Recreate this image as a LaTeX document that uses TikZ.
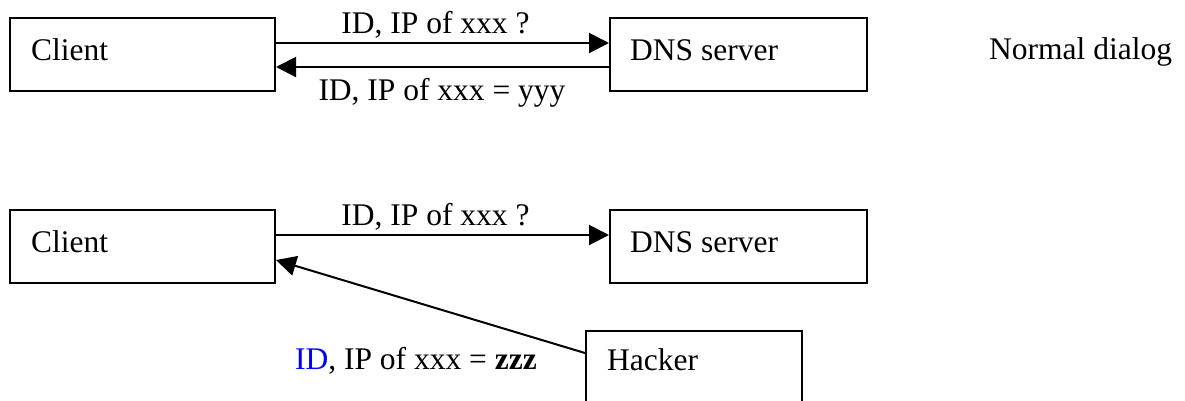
\documentclass[tikz,border=0pt]{standalone}
\usepackage{fontspec}
\setmainfont{Liberation Serif}
\usetikzlibrary{arrows.meta}
\definecolor{idblue}{RGB}{0,0,255}
\begin{document}
\begin{tikzpicture}[x=1pt,y=-1pt,
  box/.style={draw, line width=2pt, inner sep=0pt, minimum height=73pt},
  lbl/.style={inner sep=0pt, anchor=base west, font=\fontsize{31.5}{38}\selectfont},
  msg/.style={inner sep=0pt, anchor=base, font=\fontsize{31.5}{38}\selectfont},
  arr/.style={line width=2pt, -{Triangle[length=20pt,width=20pt]}}]
\useasboundingbox (0,0) rectangle (1185,400);
\clip (0,0) rectangle (1185,400);
% top row: normal dialog
\node[box, minimum width=265pt] (c1) at (142.5,54.5) {};
\node[box, minimum width=257pt] (d1) at (738.5,54.5) {};
\node[lbl] (c1t) at (31,60) {Client};
\node[lbl] (d1t) at (630,60) {DNS server};
\node[lbl] (nd) at (989,59) {Normal dialog};
\draw[arr] ([yshift=11.5pt]c1.east) -- ([yshift=11.5pt]d1.west);
\draw[arr] ([yshift=-12.5pt]d1.west) -- ([yshift=-12.5pt]c1.east);
\node[msg] (q1) at (435.5,33) {ID, IP of xxx ?};
\node[msg] (a1) at (442,100) {ID, IP of xxx = yyy};
% bottom row: spoofed answer
\node[box, minimum width=265pt] (c2) at (142.5,246.5) {};
\node[box, minimum width=257pt] (d2) at (738.5,246.5) {};
\node[box, minimum width=216pt, minimum height=80pt] (h) at (694,371) {};
\node[lbl] (c2t) at (31,252) {Client};
\node[lbl] (d2t) at (630,252) {DNS server};
\node[lbl] (ht) at (607,370) {Hacker};
\draw[arr] ([yshift=11.5pt]c2.east) -- ([yshift=11.5pt]d2.west);
\draw[arr] ([yshift=-23pt]h.north west) -- ([yshift=-13.5pt]c2.east);
\node[msg] (q2) at (435.5,225) {ID, IP of xxx ?};
\node[lbl, anchor=base east] (a2) at (537,369) {\textcolor{idblue}{ID}, IP of xxx = \textbf{zzz}};
\end{tikzpicture}
\end{document}
